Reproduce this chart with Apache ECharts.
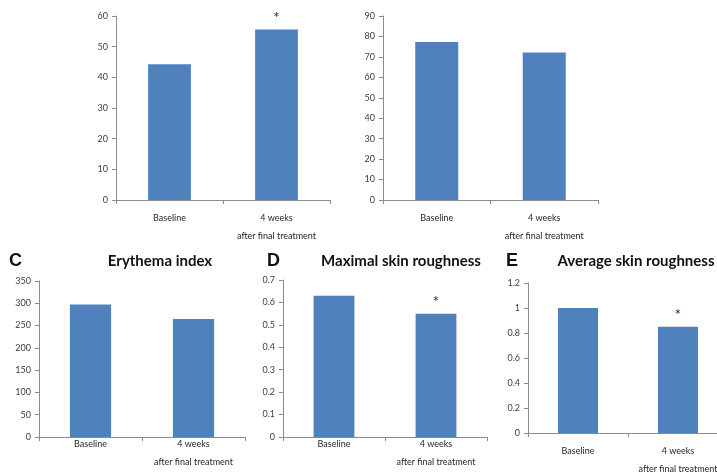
<!DOCTYPE html>
<html>
<head>
<meta charset="utf-8">
<script src="https://cdn.jsdelivr.net/npm/echarts@6/dist/echarts.min.js"></script>
<style>
  html, body { margin: 0; padding: 0; background: #fff; }
  #chart { width: 717px; height: 475px; }
</style>
</head>
<body>
<div id="chart"></div>
<script type="text/javascript">
// Chart data
const categories = ['Baseline', '4 weeks\nafter final treatment'];
const panelAValues = [44.3, 55.6];
const panelBValues = [77.3, 72.2];
const erythemaValues = [297, 265];
const maxRoughnessValues = [0.63, 0.55];
const avgRoughnessValues = [1.0, 0.85];
// Significance marks (true = '*')
const panelASig = [false, true];
const panelBSig = [false, false];
const erythemaSig = [false, false];
const maxRoughnessSig = [false, true];
const avgRoughnessSig = [false, true];
// Axis ranges
const axisMax = [60, 90, 350, 0.7, 1.2];
const axisStep = [10, 10, 50, 0.1, 0.2];
const panelLetters = ['', '', 'C', 'D', 'E'];
const panelTitles = ['', '', 'Erythema index', 'Maximal skin roughness', 'Average skin roughness'];

const font = 'Lato, "Liberation Sans", sans-serif';
const barColor = '#4f81bd';
const axisColor = '#8c8c8c';

// Layout of each panel (last one runs past the right edge, as in the source)
const grids = [
  {left: 116, top: 16, width: 214, height: 184},
  {left: 383, top: 16, width: 215, height: 184},
  {left: 39, top: 281, width: 206, height: 156},
  {left: 283, top: 280, width: 204, height: 157},
  {left: 528, top: 283, width: 200, height: 150},
].map((g) => Object.assign({outerBoundsMode: 'none', containLabel: false}, g));
const labelMargins = [9, 9, -2, -2, 9];
const titleCenters = [0, 0, 155, 396, 631];
const letterLefts = [0, 0, 4, 262, 501];

const valueSets = [panelAValues, panelBValues, erythemaValues, maxRoughnessValues, avgRoughnessValues];
const sigSets = [panelASig, panelBSig, erythemaSig, maxRoughnessSig, avgRoughnessSig];

const chart = echarts.init(document.getElementById('chart'));

const xAxes = [];
const yAxes = [];
const series = [];
const titles = [];

for (let i = 0; i < grids.length; i++) {
  xAxes.push({
    type: 'category',
    gridIndex: i,
    data: categories,
    axisLine: {lineStyle: {color: axisColor, width: 1}},
    axisTick: {show: true, length: 4, lineStyle: {color: axisColor}},
    axisLabel: {
      color: '#262626',
      fontFamily: font,
      fontSize: 9,
      lineHeight: 18,
      margin: labelMargins[i],
      verticalAlign: 'top',
      interval: 0,
    },
  });
  yAxes.push({
    type: 'value',
    gridIndex: i,
    min: 0,
    max: axisMax[i],
    interval: axisStep[i],
    splitLine: {show: false},
    axisLine: {show: true, lineStyle: {color: axisColor, width: 1}},
    axisTick: {show: true, length: 4, lineStyle: {color: axisColor}},
    axisLabel: {color: '#404040', fontFamily: font, fontSize: 9, margin: 8},
  });
  series.push({
    type: 'bar',
    xAxisIndex: i,
    yAxisIndex: i,
    barWidth: '40%',
    itemStyle: {color: barColor},
    data: valueSets[i].map((v, j) => ({
      value: v,
      label: {
        show: sigSets[i][j],
        position: 'top',
        distance: 4,
        formatter: '*',
        color: '#333',
        fontFamily: font,
        fontSize: 16,
      },
    })),
  });
  if (panelTitles[i]) {
    titles.push({
      text: panelTitles[i],
      left: titleCenters[i],
      top: 249,
      textAlign: 'center',
      textStyle: {fontFamily: font, fontSize: 15, fontWeight: 'bold', color: '#111'},
    });
    titles.push({
      text: panelLetters[i],
      left: letterLefts[i],
      top: 247,
      textStyle: {fontFamily: '"Liberation Sans", Arial, sans-serif', fontSize: 18, fontWeight: 'bold', color: '#111'},
    });
  }
}

chart.setOption({
  animation: false,
  backgroundColor: '#fff',
  title: titles,
  grid: grids,
  xAxis: xAxes,
  yAxis: yAxes,
  series: series,
});
</script>
</body>
</html>
